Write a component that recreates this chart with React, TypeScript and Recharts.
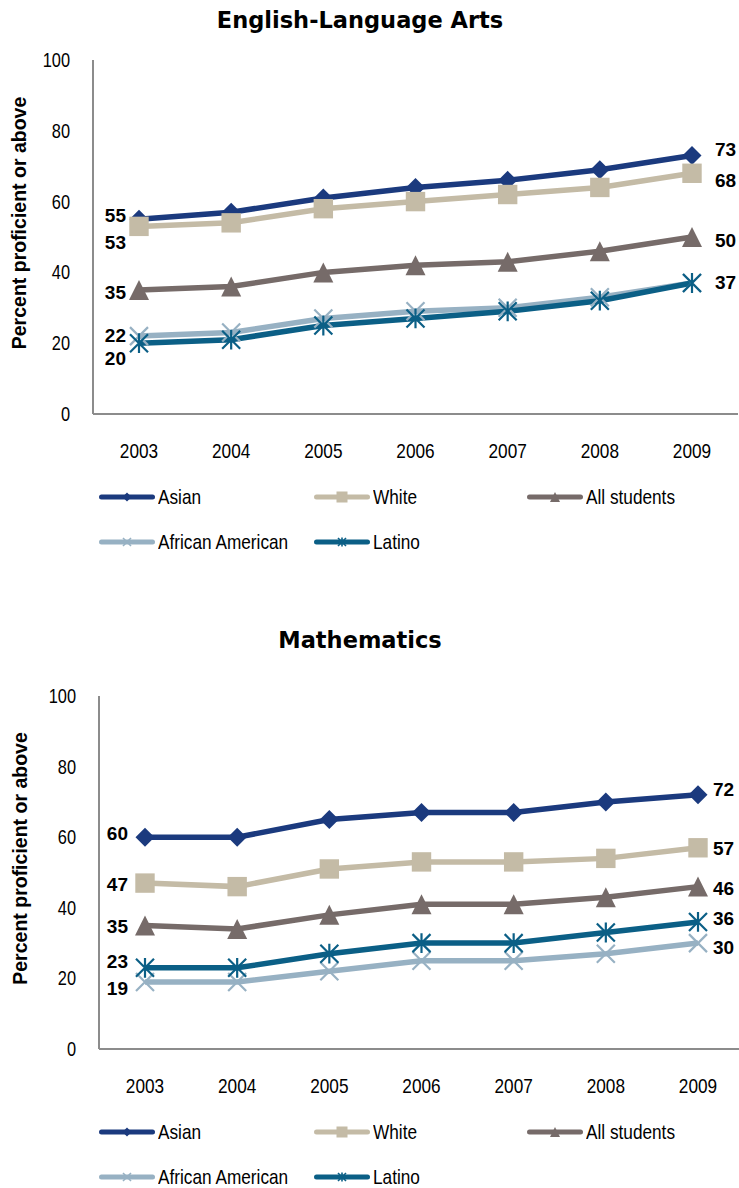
import React from 'react';
import { LineChart, Line, XAxis, YAxis, Legend, LabelList } from 'recharts';

// ---- data -------------------------------------------------------------
const years = ['2003', '2004', '2005', '2006', '2007', '2008', '2009'];
const yTicks = [0, 20, 40, 60, 80, 100];
const seriesNames = ['Asian', 'White', 'All students', 'African American', 'Latino'];

const elaAsian = [55, 57, 61, 64, 66, 69, 73];
const elaWhite = [53, 54, 58, 60, 62, 64, 68];
const elaAll = [35, 36, 40, 42, 43, 46, 50];
const elaAfricanAmerican = [22, 23, 27, 29, 30, 33, 37];
const elaLatino = [20, 21, 25, 27, 29, 32, 37];

const mathAsian = [60, 60, 65, 67, 67, 70, 72];
const mathWhite = [47, 46, 51, 53, 53, 54, 57];
const mathAll = [35, 34, 38, 41, 41, 43, 46];
const mathAfricanAmerican = [19, 19, 22, 25, 25, 27, 30];
const mathLatino = [23, 23, 27, 30, 30, 33, 36];

// ---- styling ----------------------------------------------------------
const FONT = '"Liberation Sans", Arial, Helvetica, sans-serif';
const TITLE_FONT = '"DejaVu Sans", Verdana, sans-serif';
const NARROW = 0.82; // condensed look for axis and legend text
const AXIS_COLOR = '#8c8c8c';

type Kind = 'diamond' | 'square' | 'triangle' | 'cross' | 'star';
interface SeriesStyle {
  key: string;
  name: string;
  color: string;
  kind: Kind;
}

const SERIES: SeriesStyle[] = [
  { key: 'asian', name: seriesNames[0], color: '#1b3a7e', kind: 'diamond' },
  { key: 'white', name: seriesNames[1], color: '#c4bba6', kind: 'square' },
  { key: 'all', name: seriesNames[2], color: '#766b69', kind: 'triangle' },
  { key: 'africanAmerican', name: seriesNames[3], color: '#97b1c3', kind: 'cross' },
  { key: 'latino', name: seriesNames[4], color: '#0b5f86', kind: 'star' },
];

const MARKER_SIZE: Record<Kind, number> = { diamond: 9.5, square: 9.7, triangle: 10, cross: 9, star: 9 };
const LEGEND_MARKER_SIZE: Record<Kind, number> = { diamond: 4.5, square: 5.5, triangle: 5, cross: 4, star: 4 };

function buildRows(asian: number[], white: number[], all: number[], aa: number[], latino: number[]) {
  return years.map((year, i) => ({
    year,
    asian: asian[i],
    white: white[i],
    all: all[i],
    africanAmerican: aa[i],
    latino: latino[i],
  }));
}

function Marker({ kind, cx, cy, color, s }: { kind: Kind; cx: number; cy: number; color: string; s: number }) {
  if (kind === 'diamond') {
    return <polygon points={`${cx},${cy - s} ${cx + s},${cy} ${cx},${cy + s} ${cx - s},${cy}`} fill={color} />;
  }
  if (kind === 'square') {
    return <rect x={cx - s} y={cy - s} width={2 * s} height={2 * s} fill={color} />;
  }
  if (kind === 'triangle') {
    return <polygon points={`${cx},${cy - s} ${cx + s},${cy + s} ${cx - s},${cy + s}`} fill={color} />;
  }
  let d = `M${cx - s},${cy - s}L${cx + s},${cy + s}M${cx + s},${cy - s}L${cx - s},${cy + s}`;
  if (kind === 'star') d += `M${cx},${cy - s * 1.1}L${cx},${cy + s * 1.1}`;
  return <path d={d} stroke={color} strokeWidth={s > 6 ? 2.2 : 1.6} fill="none" />;
}

const YTick = (p: any) => (
  <text
    transform={`translate(${p.x},${p.y}) scale(${NARROW},1)`}
    textAnchor="end"
    dy="0.35em"
    fontSize={20}
    fontFamily={FONT}
    fill="#000"
  >
    {p.payload.value}
  </text>
);

const XTick = (p: any) => (
  <text
    transform={`translate(${p.x},${p.y + 44}) scale(${NARROW},1)`}
    textAnchor="middle"
    fontSize={21}
    fontFamily={FONT}
    fill="#000"
  >
    {p.payload.value}
  </text>
);

function LegendBlock({ width, height, rowY }: { width: number; height: number; rowY: [number, number] }) {
  const cols = [99, 314, 527];
  const slots = [
    { s: SERIES[0], x: cols[0], y: rowY[0] },
    { s: SERIES[1], x: cols[1], y: rowY[0] },
    { s: SERIES[2], x: cols[2], y: rowY[0] },
    { s: SERIES[3], x: cols[0], y: rowY[1] },
    { s: SERIES[4], x: cols[1], y: rowY[1] },
  ];
  return (
    <div style={{ position: 'relative', width, height }}>
      {slots.map(({ s, x, y }) => (
        <div
          key={s.key}
          style={{ position: 'absolute', left: x, top: y - 12, height: 24, display: 'flex', alignItems: 'center' }}
        >
          <svg width={58} height={20} style={{ display: 'block' }}>
            <line x1={2.5} y1={10} x2={53.5} y2={10} stroke={s.color} strokeWidth={5} strokeLinecap="round" />
            <Marker kind={s.kind} cx={28} cy={10} color={s.color} s={LEGEND_MARKER_SIZE[s.kind]} />
          </svg>
          <span
            style={{
              fontFamily: FONT,
              fontSize: 21,
              color: '#000',
              whiteSpace: 'nowrap',
              display: 'inline-block',
              transform: `scaleX(${NARROW})`,
              transformOrigin: 'left center',
              marginLeft: 1,
              lineHeight: '24px',
            }}
          >
            {s.name}
          </span>
        </div>
      ))}
    </div>
  );
}

type Nudge = [number | null, number | null];

interface ChartProps {
  title: string;
  rows: ReturnType<typeof buildRows>;
  top: number;
  width: number;
  height: number;
  margin: { top: number; right: number; bottom: number; left: number };
  titleTop: number;
  legendRows: [number, number];
  leftGap: number;
  rightGap: number;
  nudges: Record<string, Nudge>;
  yLabelX: number;
  yLabelShift: number;
}

function ScoreChart(props: ChartProps) {
  const { title, rows, top, width, height, margin, titleTop, legendRows, leftGap, rightGap, nudges, yLabelX, yLabelShift } =
    props;
  const plotTop = margin.top;
  const plotBottom = height - margin.bottom - 30;
  const yLabelCy = (plotTop + plotBottom) / 2 + yLabelShift;
  const last = years.length - 1;

  const endLabel = (key: string) => (p: any) => {
    const [leftDy, rightDy] = nudges[key];
    if (p.index === 0 && leftDy !== null) {
      return (
        <text
          x={p.x - leftGap}
          y={p.y + leftDy}
          dy="0.35em"
          textAnchor="end"
          fontSize={19}
          fontWeight="bold"
          fontFamily={FONT}
          fill="#000"
        >
          {p.value}
        </text>
      );
    }
    if (p.index === last && rightDy !== null) {
      return (
        <text
          x={p.x + rightGap}
          y={p.y + rightDy}
          dy="0.35em"
          textAnchor="start"
          fontSize={19}
          fontWeight="bold"
          fontFamily={FONT}
          fill="#000"
        >
          {p.value}
        </text>
      );
    }
    return null;
  };

  return (
    <div style={{ position: 'absolute', left: 0, top, width, height }}>
      <div
        style={{
          position: 'absolute',
          left: 160,
          width: 400,
          top: titleTop,
          textAlign: 'center',
          fontFamily: TITLE_FONT,
          fontWeight: 'bold',
          fontSize: 22.5,
          lineHeight: '22px',
          color: '#000',
          whiteSpace: 'nowrap',
        }}
      >
        {title}
      </div>
      <LineChart width={width} height={height} data={rows} margin={margin}>
        <XAxis
          dataKey="year"
          height={30}
          padding={{ left: 46, right: 46 }}
          tickLine={false}
          tickSize={0}
          tickMargin={0}
          axisLine={{ stroke: AXIS_COLOR, strokeWidth: 2 }}
          tick={XTick}
          interval={0}
        />
        <YAxis
          width={60}
          domain={[0, 100]}
          ticks={yTicks}
          tickLine={false}
          tickSize={0}
          tickMargin={23}
          axisLine={{ stroke: AXIS_COLOR, strokeWidth: 2 }}
          tick={YTick}
          label={{
            content: () => (
              <text
                transform={`translate(${yLabelX},${yLabelCy}) rotate(-90)`}
                textAnchor="middle"
                fontSize={19.5}
                fontWeight="bold"
                fontFamily={FONT}
                fill="#000"
              >
                Percent proficient or above
              </text>
            ),
          }}
        />
        <Legend
          layout="horizontal"
          verticalAlign="middle"
          align="center"
          wrapperStyle={{ left: 0, top: 0, width, height, pointerEvents: 'none' }}
          content={() => <LegendBlock width={width} height={height} rowY={legendRows} />}
        />
        {SERIES.map((s) => (
          <Line
            key={s.key}
            dataKey={s.key}
            name={s.name}
            type="linear"
            stroke={s.color}
            strokeWidth={5.5}
            isAnimationActive={false}
            activeDot={false}
            dot={(p: any) => (
              <Marker key={`${s.key}-${p.index}`} kind={s.kind} cx={p.cx} cy={p.cy} color={s.color} s={MARKER_SIZE[s.kind]} />
            )}
          >
            <LabelList dataKey={s.key} content={endLabel(s.key)} />
          </Line>
        ))}
      </LineChart>
    </div>
  );
}

const elaRows = buildRows(elaAsian, elaWhite, elaAll, elaAfricanAmerican, elaLatino);
const mathRows = buildRows(mathAsian, mathWhite, mathAll, mathAfricanAmerican, mathLatino);

export default function App() {
  return (
    <div
      style={{
        position: 'absolute',
        left: 0,
        top: 0,
        width: 739,
        height: 1188,
        overflow: 'hidden',
        background: '#fff',
      }}
    >
      <ScoreChart
        title="English-Language Arts"
        rows={elaRows}
        top={0}
        width={739}
        height={570}
        margin={{ top: 60, right: 1, bottom: 126, left: 33 }}
        titleTop={9}
        legendRows={[497, 542]}
        leftGap={13}
        rightGap={23}
        nudges={{
          asian: [-4, -6],
          white: [16, 7],
          all: [2, 3],
          africanAmerican: [-1, null],
          latino: [15, -1],
        }}
        yLabelX={25.5}
        yLabelShift={-14}
      />
      <ScoreChart
        title="Mathematics"
        rows={mathRows}
        top={600}
        width={745}
        height={588}
        margin={{ top: 96, right: 1, bottom: 109, left: 39 }}
        titleTop={29}
        legendRows={[532, 577]}
        leftGap={17}
        rightGap={15}
        nudges={{
          asian: [-4, -5],
          white: [1, 1],
          all: [1, 2],
          africanAmerican: [6, 4],
          latino: [-6.5, -4],
        }}
        yLabelX={27}
        yLabelShift={-14}
      />
    </div>
  );
}
